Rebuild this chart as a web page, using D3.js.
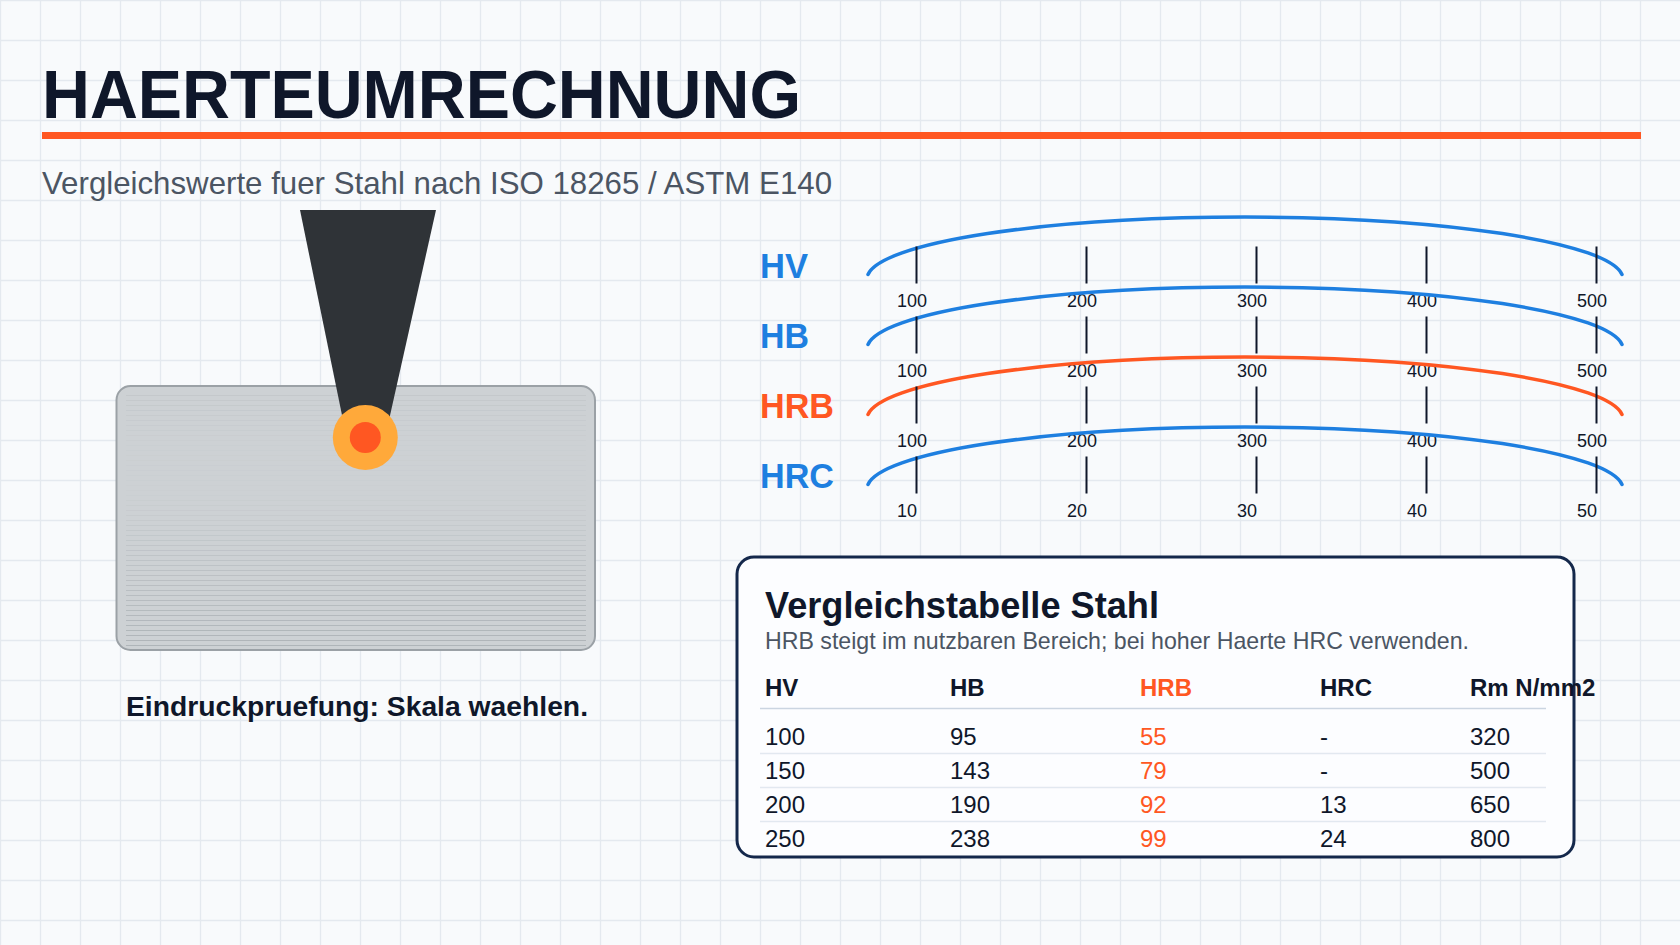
<!DOCTYPE html>
<html>
<head>
<meta charset="utf-8">
<script src="https://cdn.jsdelivr.net/npm/d3@7"></script>
<style>
  html, body { margin: 0; padding: 0; background: #f8fafc; }
  svg { display: block; }
  text { font-family: "Liberation Sans", Arial, sans-serif; }
</style>
</head>
<body>
<div id="chart"></div>
<script>
const title = 'HAERTEUMRECHNUNG';
const subtitle = 'Vergleichswerte fuer Stahl nach ISO 18265 / ASTM E140';
const caption = 'Eindruckpruefung: Skala waehlen.';

const scaleNames = ['HV', 'HB', 'HRB', 'HRC'];
const scaleDomains = [[100, 500], [100, 500], [100, 500], [10, 50]];
const scaleTicks = [
    [100, 200, 300, 400, 500],
    [100, 200, 300, 400, 500],
    [100, 200, 300, 400, 500],
    [10, 20, 30, 40, 50]
];

const tableTitle = 'Vergleichstabelle Stahl';
const tableNote = 'HRB steigt im nutzbaren Bereich; bei hoher Haerte HRC verwenden.';
const columns = ['HV', 'HB', 'HRB', 'HRC', 'Rm N/mm2'];
const colHV = ['100', '150', '200', '250'];
const colHB = ['95', '143', '190', '238'];
const colHRB = ['55', '79', '92', '99'];
const colHRC = ['-', '-', '13', '24'];
const colRm = ['320', '500', '650', '800'];
const tableCols = [colHV, colHB, colHRB, colHRC, colRm];

const ink = '#0f172a', grey = '#4b5563', blue = '#1e7fe0', orange = '#ff5722', amber = '#ffa93a';

const width = 1680, height = 945;
const svg = d3.select('#chart').append('svg')
    .attr('width', width)
    .attr('height', height)
    .attr('viewBox', '0 0 ' + width + ' ' + height);

// background with 40px grid
svg.append('rect').attr('width', width).attr('height', height).attr('fill', '#f8fafc');
const grid = svg.append('g').attr('stroke', '#e4e9ef').attr('stroke-width', 1.3);
grid.selectAll('.gx').data(d3.range(0, width, 40)).enter().append('line')
    .attr('x1', d => d + 0.5).attr('x2', d => d + 0.5).attr('y1', 0).attr('y2', height);
grid.selectAll('.gy').data(d3.range(0, height, 40)).enter().append('line')
    .attr('y1', d => d + 0.5).attr('y2', d => d + 0.5).attr('x1', 0).attr('x2', width);

// header, the glyphs run a bit narrower than the font's own widths
svg.append('text').attr('x', 42).attr('y', 118).attr('font-size', 68).attr('font-weight', 700)
    .attr('textLength', 759).attr('lengthAdjust', 'spacingAndGlyphs')
    .attr('fill', ink).text(title);
svg.append('rect').attr('x', 42).attr('y', 132).attr('width', 1599).attr('height', 7).attr('fill', orange);
svg.append('text').attr('x', 42).attr('y', 194).attr('font-size', 32).attr('fill', grey)
    .attr('textLength', 790).attr('lengthAdjust', 'spacingAndGlyphs').text(subtitle);

// test plate
svg.append('rect').attr('x', 116.5).attr('y', 386).attr('width', 478.5).attr('height', 264).attr('rx', 14)
    .attr('fill', '#cdd1d4').attr('stroke', '#9ba1a6').attr('stroke-width', 2);
const hatchOpacity = d3.scaleLinear().domain([395, 440, 490, 645]).range([0.18, 0.05, 0.03, 0.6]);
svg.append('g').selectAll('line').data(d3.range(395, 646, 5)).enter().append('line')
    .attr('x1', 126).attr('x2', 586)
    .attr('y1', d => d + 0.5).attr('y2', d => d + 0.5)
    .attr('stroke', '#9ba1a6').attr('stroke-opacity', d => hatchOpacity(d));

// indenter
svg.append('polygon').attr('points', '300,210 436,210 389,420 343,420').attr('fill', '#2f3337');
svg.append('circle').attr('cx', 365.3).attr('cy', 437.5).attr('r', 32.5).attr('fill', amber);
svg.append('circle').attr('cx', 365.3).attr('cy', 437.5).attr('r', 15.5).attr('fill', orange);

svg.append('text').attr('x', 126).attr('y', 716).attr('font-size', 28)
    .attr('textLength', 462).attr('lengthAdjust', 'spacingAndGlyphs')
    .attr('font-weight', 700).attr('fill', ink).text(caption);

// hardness scales
const rowY = d3.scalePoint().domain(scaleNames).range([277.5, 487.5]);
scaleNames.forEach((name, i) => {
    const color = name === 'HRB' ? orange : blue;
    const y = rowY(name);
    const x = d3.scaleLinear().domain(scaleDomains[i]).range([916, 1596]);

    svg.append('text').attr('x', 760).attr('y', y).attr('font-size', 35).attr('font-weight', 700)
        .attr('textLength', name === 'HV' ? 48 : name === 'HB' ? 49 : 74).attr('lengthAdjust', 'spacingAndGlyphs')
        .attr('fill', color).text(name);

    svg.append('path')
        .attr('d', 'M868 ' + (y - 3) + ' A378 62 0 0 1 1622 ' + (y - 3))
        .attr('fill', 'none').attr('stroke', color).attr('stroke-width', 3.5).attr('stroke-linecap', 'round');

    const axis = svg.append('g')
        .attr('transform', 'translate(0,' + (y - 31) + ')')
        .call(d3.axisBottom(x).tickValues(scaleTicks[i]).tickSize(37).tickPadding(11).tickFormat(d3.format('d')));
    axis.select('.domain').remove();
    axis.selectAll('.tick line').attr('stroke', ink).attr('stroke-width', 2);
    axis.selectAll('.tick text')
        .attr('x', -19.5)
        .attr('text-anchor', 'start')
        .attr('font-family', '"Liberation Sans", Arial, sans-serif')
        .attr('font-size', 18)
        .attr('fill', ink);
});

// comparison card
svg.append('rect').attr('x', 737).attr('y', 557).attr('width', 837).attr('height', 300).attr('rx', 17)
    .attr('fill', '#fcfdff').attr('stroke', '#14284b').attr('stroke-width', 3);
svg.append('text').attr('x', 765).attr('y', 618).attr('font-size', 36).attr('font-weight', 700)
    .attr('textLength', 394).attr('lengthAdjust', 'spacingAndGlyphs')
    .attr('fill', ink).text(tableTitle);
svg.append('text').attr('x', 765).attr('y', 649).attr('font-size', 24).attr('fill', grey)
    .attr('textLength', 704).attr('lengthAdjust', 'spacingAndGlyphs').text(tableNote);

const colX = d3.scaleOrdinal().domain(columns).range([765, 950, 1140, 1320, 1470]);
const rowPos = d3.scalePoint().domain(d3.range(colHV.length)).range([744.5, 846.5]);

svg.append('line').attr('x1', 760).attr('x2', 1546).attr('y1', 708.5).attr('y2', 708.5)
    .attr('stroke', '#cbd5e1').attr('stroke-width', 1.5);
svg.append('g').selectAll('line').data(colHV.slice(1)).enter().append('line')
    .attr('x1', 760).attr('x2', 1546)
    .attr('y1', (d, i) => rowPos(i) + 9)
    .attr('y2', (d, i) => rowPos(i) + 9)
    .attr('stroke', '#e2e8f0').attr('stroke-width', 1.5);

svg.append('g').selectAll('text').data(columns).enter().append('text')
    .attr('x', d => colX(d)).attr('y', 696)
    .attr('font-size', 24).attr('font-weight', 700)
    .attr('fill', d => d === 'HRB' ? orange : ink)
    .text(d => d);

columns.forEach((name, c) => {
    svg.append('g').selectAll('text').data(tableCols[c]).enter().append('text')
        .attr('x', colX(name))
        .attr('y', (d, i) => rowPos(i))
        .attr('font-size', 24)
        .attr('fill', name === 'HRB' ? orange : ink)
        .text(d => d);
});
</script>
</body>
</html>
